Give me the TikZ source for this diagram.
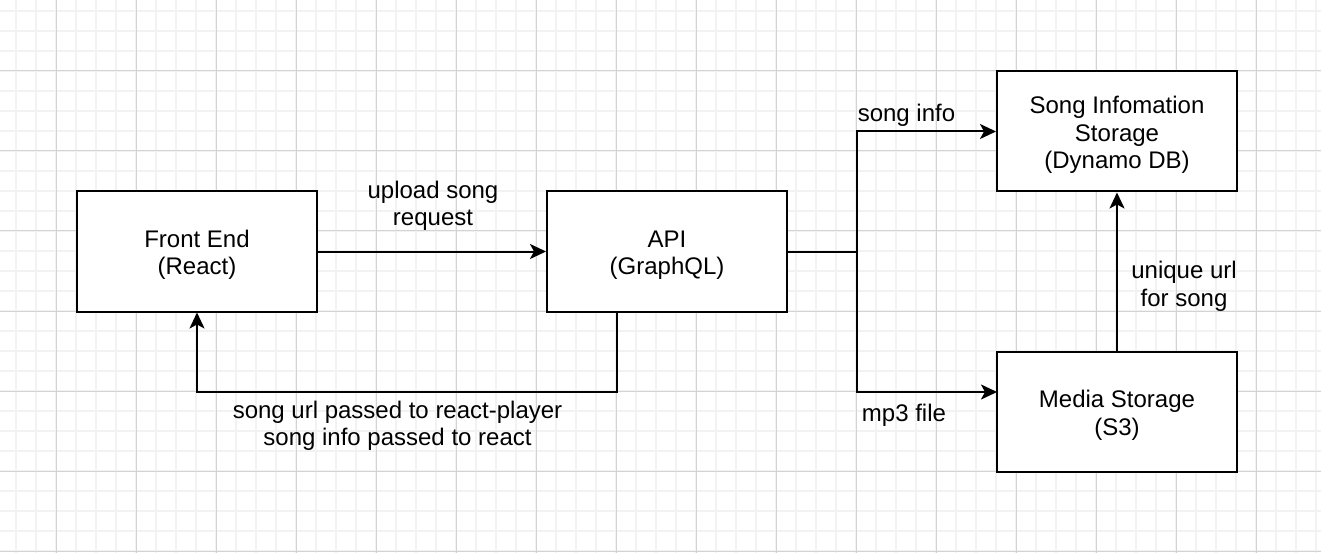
\documentclass[tikz,border=0pt]{standalone}
\usepackage{fontspec}
\setmainfont{Liberation Sans}
\usetikzlibrary{arrows.meta}
\definecolor{gridminor}{HTML}{F2F2F2}
\definecolor{gridmajor}{HTML}{D3D3D3}
\tikzset{
  box/.style={draw=black, line width=2pt, fill=white, minimum width=240pt, minimum height=120pt, inner sep=0pt},
  boxtext/.style={inner sep=0pt, align=center, font=\fontsize{24}{27.5}\selectfont},
  lbl/.style={inner sep=0pt, align=center, font=\fontsize{24}{27.5}\selectfont},
  conn/.style={draw=black, line width=2pt, -{Stealth[length=16pt, width=15pt, inset=4pt]}},
  seg/.style={draw=black, line width=2pt}
}
\begin{document}
\begin{tikzpicture}[x=1pt,y=-1pt]
\useasboundingbox (0,0) rectangle (1321,553);
\fill[white] (0,0) rectangle (1321,553);
% grid
\foreach \gx in {16,36,...,1316} {\draw[gridminor, line width=1.5pt] (\gx,0) -- (\gx,553);}
\foreach \gy in {11,31,...,551} {\draw[gridminor, line width=1.5pt] (0,\gy) -- (1321,\gy);}
\foreach \gx in {56,136,...,1256} {\draw[gridmajor, line width=1pt] (\gx,0) -- (\gx,553);}
\foreach \gy in {71,151,...,551} {\draw[gridmajor, line width=1pt] (0,\gy) -- (1321,\gy);}
% boxes
\node[box] (fe) at (197,251.5) {};
\node[box] (api) at (667,251.5) {};
\node[box] (sis) at (1117,131.5) {};
\node[box] (ms) at (1117,411.5) {};
\node[boxtext] (fet) at (197,255) {Front End\\(React)};
\node[boxtext] (apit) at (667,255) {API\\(GraphQL)};
\node[boxtext] (sist) at (1117,135) {Song Infomation\\Storage\\(Dynamo DB)};
\node[boxtext] (mst) at (1117,415.5) {Media Storage\\(S3)};
% helper coordinates
\coordinate (j) at (857,251.5);
\coordinate (apib) at (617,311.5);
\coordinate (msin) at (997,392);
% connectors
\draw[conn] (fe.east) -- (api.west);
\draw[seg] (api.east) -- (j);
\draw[conn] (j) |- (sis.west);
\draw[conn] (j) |- (msin);
\draw[conn] (apib) -- (617,392) -| (fe.south);
\draw[conn] (ms.north) -- (sis.south);
% labels
\node[lbl] (l1) at (433,206) {upload song\\request};
\node[lbl] (l2) at (397.5,426) {song url passed to react-player\\song info passed to react};
\node[lbl] (l3) at (906.5,115) {song info};
\node[lbl] (l4) at (904,415) {mp3 file};
\node[lbl] (l5) at (1184,286.5) {unique url\\for song};
\end{tikzpicture}
\end{document}
